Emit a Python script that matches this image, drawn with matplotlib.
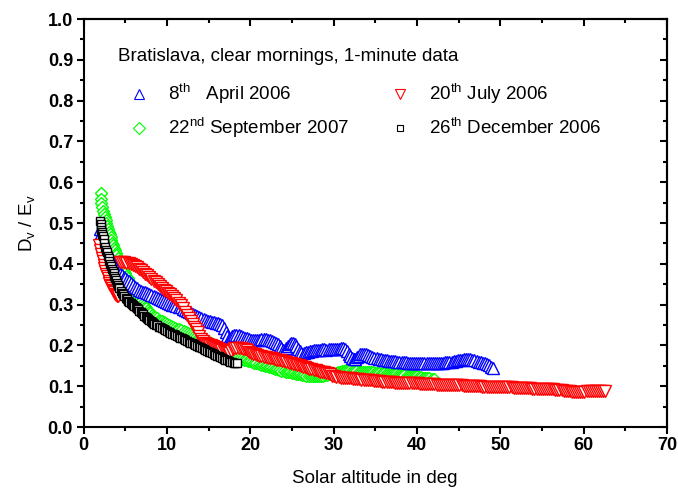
import matplotlib
matplotlib.use("Agg")
import matplotlib.pyplot as plt
from matplotlib.ticker import MultipleLocator, FormatStrFormatter

plt.rcParams['font.family'] = ['Liberation Sans', 'DejaVu Sans']
plt.rcParams['mathtext.fontset'] = 'custom'
plt.rcParams['mathtext.rm'] = 'Liberation Sans'
plt.rcParams['mathtext.it'] = 'Liberation Sans:italic'

# ---- data: (solar altitude, Dv/Ev) ----
april_2006 = [
 (2.0,.485),(2.15,.475),(2.3,.466),(2.45,.457),(2.6,.448),(2.75,.440),(2.9,.432),(3.05,.425),(3.2,.418),(3.4,.409),
 (3.6,.400),(3.8,.393),(4.0,.386),(4.2,.381),(4.4,.376),(4.6,.372),(4.8,.368),(5.0,.364),(5.2,.360),(5.4,.357),
 (5.65,.352),(5.9,.348),(6.15,.344),(6.4,.340),(6.65,.337),(6.9,.334),(7.15,.332),(7.4,.330),(7.65,.328),(7.9,.326),
 (8.15,.324),(8.4,.322),(8.65,.319),(8.9,.316),(9.15,.313),(9.4,.311),(9.65,.309),(9.9,.306),(10.15,.304),(10.4,.302),
 (10.65,.300),(10.9,.299),(11.15,.297),(11.4,.295),(11.65,.293),(11.9,.290),(12.15,.287),(12.4,.285),(12.65,.283),
 (12.9,.280),(13.15,.278),(13.4,.275),(13.65,.272),(13.9,.269),(14.15,.266),(14.4,.264),(14.65,.262),(14.9,.260),
 (15.15,.259),(15.4,.258),(15.65,.257),(15.9,.256),(16.15,.254),(16.4,.252),(16.65,.249),(16.85,.242),(17.05,.232),
 (17.25,.222),(17.45,.215),(17.65,.218),(17.85,.223),(18.1,.226),(18.35,.226),(18.6,.225),(18.85,.223),(19.1,.221),
 (19.35,.219),(19.6,.217),(19.85,.215),(20.1,.214),(20.35,.213),(20.6,.213),(20.85,.214),(21.1,.214),(21.35,.215),
 (21.6,.215),(21.85,.215),(22.1,.214),(22.35,.213),(22.6,.211),(22.85,.209),(23.1,.207),(23.35,.204),(23.55,.199),
 (23.75,.193),(23.95,.188),(24.15,.188),(24.35,.193),(24.55,.198),(24.75,.203),(24.95,.205),(25.15,.205),(25.35,.203),
 (25.55,.198),(25.75,.192),(25.95,.186),(26.15,.181),(26.4,.181),(26.65,.183),(26.9,.185),(27.15,.186),(27.4,.187),
 (27.65,.188),(27.9,.188),(28.15,.189),(28.4,.189),(28.65,.190),(28.9,.190),(29.15,.189),(29.4,.190),(29.65,.191),
 (29.9,.190),(30.15,.191),(30.4,.192),(30.65,.192),(30.9,.193),(31.15,.193),(31.4,.191),(31.6,.186),(31.8,.180),
 (32.0,.174),(32.2,.169),(32.4,.166),(32.6,.167),(32.8,.171),(33.0,.175),(33.2,.178),(33.4,.180),(33.65,.180),
 (33.9,.178),(34.15,.176),(34.4,.174),(34.65,.172),(34.9,.170),(35.15,.169),(35.4,.167),(35.65,.166),(35.9,.165),
 (36.15,.164),(36.4,.163),(36.65,.162),(36.9,.162),(37.15,.161),(37.4,.161),(37.65,.160),(37.9,.160),(38.15,.160),
 (38.4,.159),(38.65,.159),(38.9,.158),(39.15,.158),(39.4,.158),(39.65,.157),(39.9,.157),(40.15,.157),(40.4,.156),
 (40.65,.156),(40.9,.156),(41.15,.156),(41.4,.157),(41.65,.157),(41.9,.157),(42.15,.157),(42.4,.158),(42.65,.158),
 (42.9,.158),(43.15,.158),(43.4,.159),(43.65,.159),(43.9,.160),(44.15,.160),(44.4,.161),(44.65,.162),(44.9,.163),
 (45.15,.164),(45.4,.165),(45.65,.166),(45.9,.166),(46.15,.166),(46.4,.166),(46.65,.165),(46.9,.163),(47.15,.162),
 (47.4,.160),(47.65,.159),(47.9,.157),(48.15,.156),(48.4,.154),(48.65,.151),(48.9,.148),(49.1,.145)]

july_2006 = [
 (1.9,.445),(2.0,.435),(2.1,.425),(2.2,.415),(2.3,.406),(2.4,.398),(2.5,.390),(2.6,.383),(2.7,.376),(2.8,.370),
 (2.9,.364),(3.0,.359),(3.1,.354),(3.2,.349),(3.3,.345),(3.4,.341),(3.5,.337),(3.6,.333),(3.7,.330),(3.8,.327),
 (3.9,.324),(4.0,.322),(4.1,.320),
 (4.4,.405),(4.65,.405),(4.9,.404),(5.15,.402),(5.4,.401),(5.65,.399),(5.9,.396),(6.15,.394),(6.4,.391),(6.65,.388),
 (6.9,.384),(7.15,.380),(7.4,.376),(7.65,.372),(7.9,.368),(8.15,.363),(8.4,.359),(8.65,.355),(8.9,.350),(9.15,.346),
 (9.4,.341),(9.65,.337),(9.9,.333),(10.15,.329),(10.4,.325),(10.65,.321),(10.9,.316),(11.15,.311),(11.4,.305),
 (11.65,.298),(11.9,.291),(12.15,.283),(12.4,.275),(12.65,.267),(12.9,.259),(13.1,.252),(13.3,.246),(13.5,.240),
 (13.7,.233),(13.9,.224),(14.1,.216),(14.3,.210),(14.55,.206),(14.8,.204),(15.05,.202),(15.3,.200),(15.55,.198),
 (15.8,.196),(16.05,.194),(16.3,.191),(16.55,.189),(16.8,.186),(17.05,.184),(17.3,.182),(17.5,.182),(17.7,.186),
 (17.9,.190),(18.1,.193),(18.35,.194),(18.6,.194),(18.85,.193),(19.1,.192),(19.35,.190),(19.6,.188),(19.85,.185),
 (20.1,.182),(20.35,.180),(20.6,.178),(20.85,.177),(21.1,.175),(21.35,.174),(21.6,.172),(21.85,.171),(22.1,.170),
 (22.35,.169),(22.6,.168),(22.85,.166),(23.1,.165),(23.35,.164),(23.6,.163),(23.85,.162),(24.1,.161),(24.35,.160),
 (24.6,.158),(24.85,.157),(25.1,.155),(25.35,.154),(25.6,.152),(25.85,.151),(26.1,.149),(26.35,.148),(26.6,.146),
 (26.85,.145),(27.1,.143),(27.35,.142),(27.6,.140),(27.85,.139),(28.1,.137),(28.35,.136),(28.6,.135),(28.85,.134),
 (29.1,.133),(29.35,.132),(29.6,.130),(29.85,.126),(30.1,.124),(30.35,.123),(30.6,.122),(30.85,.121),(31.1,.121),
 (31.35,.120),(31.6,.120),(31.85,.119),(32.1,.119),(32.35,.118),(32.6,.118),(32.85,.117),(33.1,.117),(33.35,.116),
 (33.6,.116),(33.85,.115),(34.1,.115),(34.35,.114),(34.6,.114),(34.85,.113),(35.1,.113),(35.35,.112),(35.6,.112),
 (35.85,.111),(36.1,.111),(36.35,.110),(36.6,.110),(36.85,.110),(37.1,.110),(37.35,.109),(37.6,.109),(37.85,.109),
 (38.1,.109),(38.35,.108),(38.6,.108),(38.85,.108),(39.1,.108),(39.35,.107),(39.6,.107),(39.85,.107),(40.1,.107),
 (40.35,.106),(40.6,.106),(40.85,.106),(41.1,.106),(41.35,.105),(41.6,.105),(41.85,.105),(42.1,.105),(42.35,.104),
 (42.6,.104),(42.85,.104),(43.1,.104),(43.35,.103),(43.6,.103),(43.85,.103),(44.1,.103),(44.35,.103),(44.6,.102),
 (44.85,.102),(45.1,.102),(45.35,.102),(45.6,.101),(45.85,.101),(46.1,.101),(46.35,.101),(46.6,.100),(46.85,.100),
 (47.1,.100),(47.35,.100),(47.6,.100),(47.85,.099),(48.1,.099),(48.35,.099),(48.6,.099),(48.85,.099),(49.1,.098),
 (49.35,.098),(49.6,.098),(49.85,.098),(50.1,.097),(50.35,.097),(50.6,.097),(50.85,.097),(51.1,.097),(51.35,.097),
 (51.6,.096),(51.85,.096),(52.1,.096),(52.35,.096),(52.6,.096),(52.85,.095),(53.1,.095),(53.35,.095),(53.6,.095),
 (53.85,.094),(54.1,.094),(54.35,.094),(54.6,.094),(54.85,.093),(55.1,.093),(55.35,.093),(55.6,.093),(55.85,.092),
 (56.1,.092),(56.35,.092),(56.6,.091),(56.85,.091),(57.1,.090),(57.35,.090),(57.6,.089),(57.85,.089),(58.1,.088),
 (58.35,.088),(58.6,.087),(58.85,.087),(59.1,.087),(59.35,.087),(59.6,.087),(59.85,.087),(60.1,.087),(60.35,.088),
 (60.6,.088),(60.85,.088),(61.1,.088),(61.35,.088),(61.6,.088),(61.85,.089),(62.1,.089),(62.35,.089),(62.6,.089)]

september_2007 = [
 (2.06,.574),(2.1,.560),(2.15,.548),(2.25,.538),(2.35,.530),(2.45,.522),(2.55,.514),(2.65,.507),(2.75,.500),
 (2.85,.493),(2.95,.486),(3.05,.479),(3.15,.472),(3.25,.465),(3.35,.458),(3.45,.451),(3.55,.445),(3.65,.439),
 (3.75,.433),(3.85,.427),(3.95,.421),(4.1,.413),(4.25,.406),(4.4,.400),(4.55,.394),(4.7,.389),(4.85,.383),(5.0,.377),
 (5.15,.371),(5.3,.365),(5.45,.359),(5.6,.354),(5.75,.348),(5.9,.343),(6.05,.338),(6.2,.333),(6.35,.328),(6.5,.323),
 (6.65,.318),(6.8,.313),(6.95,.308),(7.1,.303),(7.25,.299),(7.4,.295),(7.55,.291),(7.7,.287),(7.85,.283),(8.0,.279),
 (8.2,.275),(8.4,.272),(8.6,.269),(8.8,.266),(9.0,.263),(9.2,.261),(9.4,.259),(9.6,.257),(9.8,.255),(10.0,.253),
 (10.25,.250),(10.5,.248),(10.75,.245),(11.0,.243),(11.25,.241),(11.5,.239),(11.75,.237),(12.0,.235),(12.25,.232),
 (12.5,.230),(12.75,.228),(13.0,.226),(13.25,.223),(13.5,.221),(13.75,.219),(14.0,.217),(14.25,.215),(14.5,.213),
 (14.75,.210),(15.0,.208),(15.25,.205),(15.5,.203),(15.75,.200),(16.0,.198),(16.25,.195),(16.5,.193),(16.75,.190),
 (17.0,.188),(17.25,.185),(17.5,.182),(17.75,.179),(18.0,.176),(18.25,.173),(18.5,.171),(18.75,.169),(19.0,.167),
 (19.25,.165),(19.5,.164),(19.75,.162),(20.0,.161),(20.25,.159),(20.5,.158),(20.75,.156),(21.0,.155),(21.25,.153),
 (21.5,.152),(21.75,.150),(22.0,.149),(22.25,.147),(22.5,.146),(22.75,.144),(23.0,.143),(23.25,.141),(23.5,.140),
 (23.75,.138),(24.0,.137),(24.25,.136),(24.5,.135),(24.75,.134),(25.0,.133),(25.25,.132),(25.5,.131),(25.75,.130),
 (26.0,.129),(26.25,.128),(26.5,.127),(26.75,.126),(27.0,.126),(27.25,.125),(27.5,.125),(27.75,.124),(28.0,.124),
 (28.25,.124),(28.5,.125),(28.75,.126),(29.0,.127),(29.25,.128),(29.5,.129),(29.75,.130),(30.0,.131),(30.25,.133),
 (30.5,.134),(30.75,.136),(31.0,.137),(31.25,.138),(31.5,.139),(31.75,.139),(32.0,.139),(32.25,.138),(32.5,.137),
 (32.75,.137),(33.0,.136),(33.25,.136),(33.5,.136),(33.75,.135),(34.0,.135),(34.25,.135),(34.5,.134),(34.75,.134),
 (35.0,.133),(35.25,.133),(35.5,.133),(35.75,.132),(36.0,.132),(36.25,.131),(36.5,.131),(36.75,.130),(37.0,.130),
 (37.25,.129),(37.5,.129),(37.75,.128),(38.0,.128),(38.25,.127),(38.5,.127),(38.75,.126),(39.0,.126),(39.25,.125),
 (39.5,.125),(39.75,.124),(40.0,.124),(40.25,.123),(40.5,.122),(40.75,.121),(41.0,.121),(41.25,.120),(41.5,.119),
 (41.75,.118),(42.0,.118)]

december_2006 = [
 (2.0,.505),(2.05,.497),(2.1,.490),(2.15,.484),(2.2,.478),(2.25,.473),(2.3,.468),(2.4,.460),(2.5,.451),(2.6,.442),
 (2.7,.435),(2.8,.428),(2.9,.420),(3.0,.413),(3.1,.406),(3.2,.400),(3.3,.394),(3.4,.388),(3.5,.382),(3.6,.377),
 (3.7,.371),(3.8,.366),(3.9,.360),(4.0,.354),(4.1,.349),(4.2,.344),(4.3,.340),(4.45,.334),(4.6,.329),(4.75,.325),
 (4.9,.321),(5.05,.317),(5.2,.313),(5.35,.310),(5.5,.307),(5.65,.304),(5.8,.302),(5.95,.299),(6.1,.297),(6.25,.294),
 (6.4,.291),(6.55,.288),(6.7,.285),(6.85,.282),(7.0,.279),(7.15,.276),(7.3,.273),(7.45,.270),(7.6,.268),(7.75,.265),
 (7.9,.263),(8.05,.260),(8.2,.258),(8.35,.255),(8.5,.253),(8.65,.251),(8.8,.249),(9.0,.246),(9.2,.244),(9.4,.242),
 (9.6,.239),(9.8,.237),(10.0,.235),(10.2,.233),(10.4,.231),(10.6,.229),(10.8,.227),(11.0,.225),(11.2,.223),
 (11.4,.221),(11.6,.219),(11.8,.217),(12.0,.215),(12.2,.213),(12.4,.211),(12.6,.209),(12.8,.207),(13.0,.205),
 (13.2,.203),(13.4,.201),(13.6,.199),(13.8,.197),(14.0,.195),(14.2,.193),(14.4,.191),(14.6,.189),(14.8,.187),
 (15.0,.185),(15.2,.183),(15.4,.181),(15.6,.179),(15.8,.177),(16.0,.175),(16.2,.173),(16.4,.171),(16.6,.169),
 (16.8,.167),(17.0,.165),(17.2,.163),(17.4,.162),(17.6,.160),(17.8,.159),(18.0,.158),(18.2,.157),(18.4,.156)]

series_labels = ["8$^{\\mathrm{th}}$   April 2006", "20$^{\\mathrm{th}}$ July 2006",
                 "22$^{\\mathrm{nd}}$ September 2007", "26$^{\\mathrm{th}}$ December 2006"]
legend_title = "Bratislava, clear mornings, 1-minute data"
x_ticks = [0, 10, 20, 30, 40, 50, 60, 70]
y_ticks = [0.0, 0.1, 0.2, 0.3, 0.4, 0.5, 0.6, 0.7, 0.8, 0.9, 1.0]

fig = plt.figure(figsize=(6.78, 4.92), dpi=100)
ax = fig.add_axes([83.5/678, 65/492, 583.5/678, 408/492])

mk = dict(linestyle='none', markerfacecolor='white', markeredgewidth=1.0)
def draw(data, **kw):
    xs, ys = zip(*data)
    ax.plot(xs, ys, **kw, **mk)

draw(september_2007, marker='D', markersize=6.2, markeredgecolor='#00ff00', zorder=2)
draw(april_2006, marker='^', markersize=8.0, markeredgecolor='#0000ff', zorder=3)
draw(july_2006, marker='v', markersize=8.0, markeredgecolor='#ff0000', zorder=4)
draw(december_2006, marker='s', markersize=6.2, markeredgecolor='black', zorder=5)

ax.set_xlim(0, 70)
ax.set_ylim(0, 1.0)
ax.set_xticks(x_ticks)
ax.set_yticks(y_ticks)
ax.xaxis.set_minor_locator(MultipleLocator(5))
ax.yaxis.set_minor_locator(MultipleLocator(0.05))
ax.yaxis.set_major_formatter(FormatStrFormatter('%.1f'))
ax.tick_params(which='both', direction='out', width=1.5, labelsize=13, pad=2.5)
ax.tick_params(which='major', length=5)
ax.tick_params(which='minor', length=3)
for lab in ax.get_xticklabels() + ax.get_yticklabels():
    lab.set_fontweight('bold')
for s in ax.spines.values():
    s.set_linewidth(1.5)

top = ax.secondary_xaxis('top')
top.set_xticks(x_ticks)
top.xaxis.set_minor_locator(MultipleLocator(5))
top.tick_params(which='both', direction='in', width=1.5, labeltop=False)
top.tick_params(which='major', length=5)
top.tick_params(which='minor', length=3)
top.spines['top'].set_linewidth(1.5)
right = ax.secondary_yaxis('right')
right.set_yticks(y_ticks)
right.yaxis.set_minor_locator(MultipleLocator(0.05))
right.tick_params(which='both', direction='in', width=1.5, labelright=False)
right.tick_params(which='major', length=5)
right.tick_params(which='minor', length=3)
right.spines['right'].set_linewidth(1.5)

ax.set_xlabel("Solar altitude in deg", fontsize=13.5, labelpad=11)
ax.set_ylabel("D$_{\\mathrm{v}}$ / E$_{\\mathrm{v}}$", fontsize=13.5, labelpad=8)

tr = ax.transAxes
ax.text(0.059, 0.907, legend_title, transform=tr, fontsize=13.5, va='center', ha='left')
leg_pos = [(0.0944, 0.817), (0.5424, 0.817), (0.0944, 0.733), (0.5424, 0.733)]
leg_mk = [('^', '#0000ff', 7.5), ('v', '#ff0000', 7.5), ('D', '#00ff00', 6.0), ('s', 'black', 5.0)]
for (px, py), (m, c, sz), lab in zip(leg_pos, leg_mk, series_labels):
    ax.plot([px], [py], transform=tr, marker=m, markersize=sz, markeredgecolor=c,
            markerfacecolor='white', markeredgewidth=0.8, linestyle='none', zorder=6)
    ax.text(px + 0.0496, py, lab, transform=tr, fontsize=13.5, va='center', ha='left')

fig.savefig("out.png", dpi=100)
